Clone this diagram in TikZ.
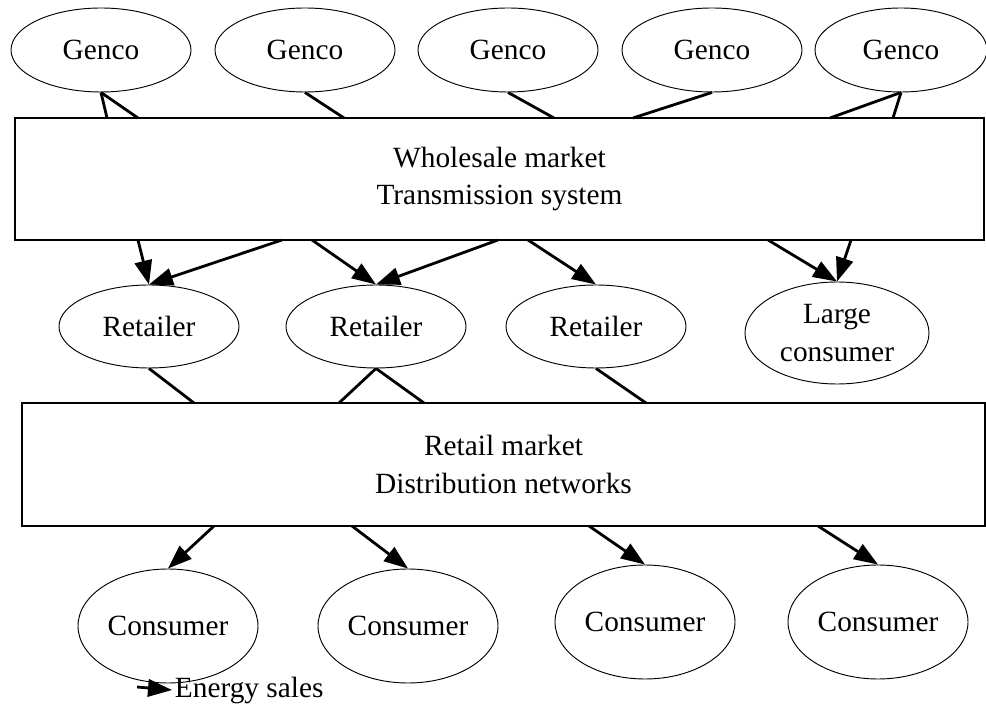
\documentclass[tikz,border=0pt]{standalone}
\usepackage{fontspec}
\setmainfont{Liberation Serif}
\usetikzlibrary{shapes.geometric,arrows.meta}
\begin{document}
\begin{tikzpicture}[x=0.75pt,y=-0.75pt,
  every node/.style={font=\fontsize{22}{28}\selectfont, align=center},
  ent/.style={ellipse, draw, line width=0.7pt, inner sep=0pt},
  genco/.style={ent, minimum width=135pt, minimum height=63pt},
  retail/.style={ent, minimum width=135pt, minimum height=62.25pt},
  cons/.style={ent, minimum width=135pt, minimum height=85.5pt},
  market/.style={rectangle, draw, line width=1.4pt, inner sep=0pt},
  link/.style={line width=2.1pt},
  sale/.style={line width=2.1pt, -{Triangle[length=18pt,width=13pt]}}]
\useasboundingbox (0,0) rectangle (986,723);
% nodes
\node[genco] (g1) at (101,50) {Genco};
\node[genco] (g2) at (305,50) {Genco};
\node[genco] (g3) at (508,50) {Genco};
\node[genco] (g4) at (712,50) {Genco};
\node[genco, minimum width=129pt] (g5) at (901,50) {Genco};
\node[market, minimum width=726.75pt, minimum height=91.5pt] (wh) at (499.5,179) {Wholesale market\\Transmission system};
\node[retail] (r1) at (149,326.5) {Retailer};
\node[retail] (r2) at (376,326.5) {Retailer};
\node[retail] (r3) at (596,326.5) {Retailer};
\node[ent, minimum width=138pt, minimum height=76.5pt] (lc) at (837,333) {Large\\consumer};
\node[market, minimum width=722.25pt, minimum height=92.25pt] (rm) at (503.5,464.5) {Retail market\\Distribution networks};
\node[cons] (c1) at (168,626) {Consumer};
\node[cons] (c2) at (408,626) {Consumer};
\node[cons] (c3) at (645,622) {Consumer};
\node[cons] (c4) at (878,622) {Consumer};
% attachment points on the boxes
\coordinate (w1) at (107,118);
\coordinate (w2) at (138,118);
\coordinate (w3) at (344,118);
\coordinate (w4) at (554,118);
\coordinate (w5) at (633,118);
\coordinate (w6) at (830,118);
\coordinate (w7) at (893,118);
\coordinate (b1) at (138,240);
\coordinate (b2) at (282,240);
\coordinate (b3) at (312,240);
\coordinate (b4) at (498,240);
\coordinate (b5) at (528,240);
\coordinate (b6) at (768,240);
\coordinate (b7) at (851,240);
\coordinate (t1) at (194,403);
\coordinate (t2) at (339,403);
\coordinate (t3) at (424,403);
\coordinate (t4) at (646,403);
\coordinate (d1) at (214,526);
\coordinate (d2) at (352,526);
\coordinate (d3) at (589,526);
\coordinate (d4) at (818,526);
% genco links
\draw[link] (g1.south) -- (w1);
\draw[link] (g1.south) -- (w2);
\draw[link] (g2.south) -- (w3);
\draw[link] (g3.south) -- (w4);
\draw[link] (g4.south) -- (w5);
\draw[link] (g5.south) -- (w6);
\draw[link] (g5.south) -- (w7);
% wholesale sales
\draw[sale] (b1) -- (r1.north);
\draw[sale] (b2) -- (r1.north);
\draw[sale] (b3) -- (r2.north);
\draw[sale] (b4) -- (r2.north);
\draw[sale] (b5) -- (r3.north);
\draw[sale] (b6) -- (lc.north);
\draw[sale] (b7) -- (lc.north);
% retailer links
\draw[link] (r1.south) -- (t1);
\draw[link] (r2.south) -- (t2);
\draw[link] (r2.south) -- (t3);
\draw[link] (r3.south) -- (t4);
% retail sales
\draw[sale] (d1) -- (c1.north);
\draw[sale] (d2) -- (c2.north);
\draw[sale] (d3) -- (c3.north);
\draw[sale] (d4) -- (c4.north);
% legend
\coordinate (la) at (137,687);
\node[anchor=west, inner sep=2pt] (lt) at (172,690) {Energy sales};
\draw[sale] (la) -- (lt.west);
\end{tikzpicture}
\end{document}
